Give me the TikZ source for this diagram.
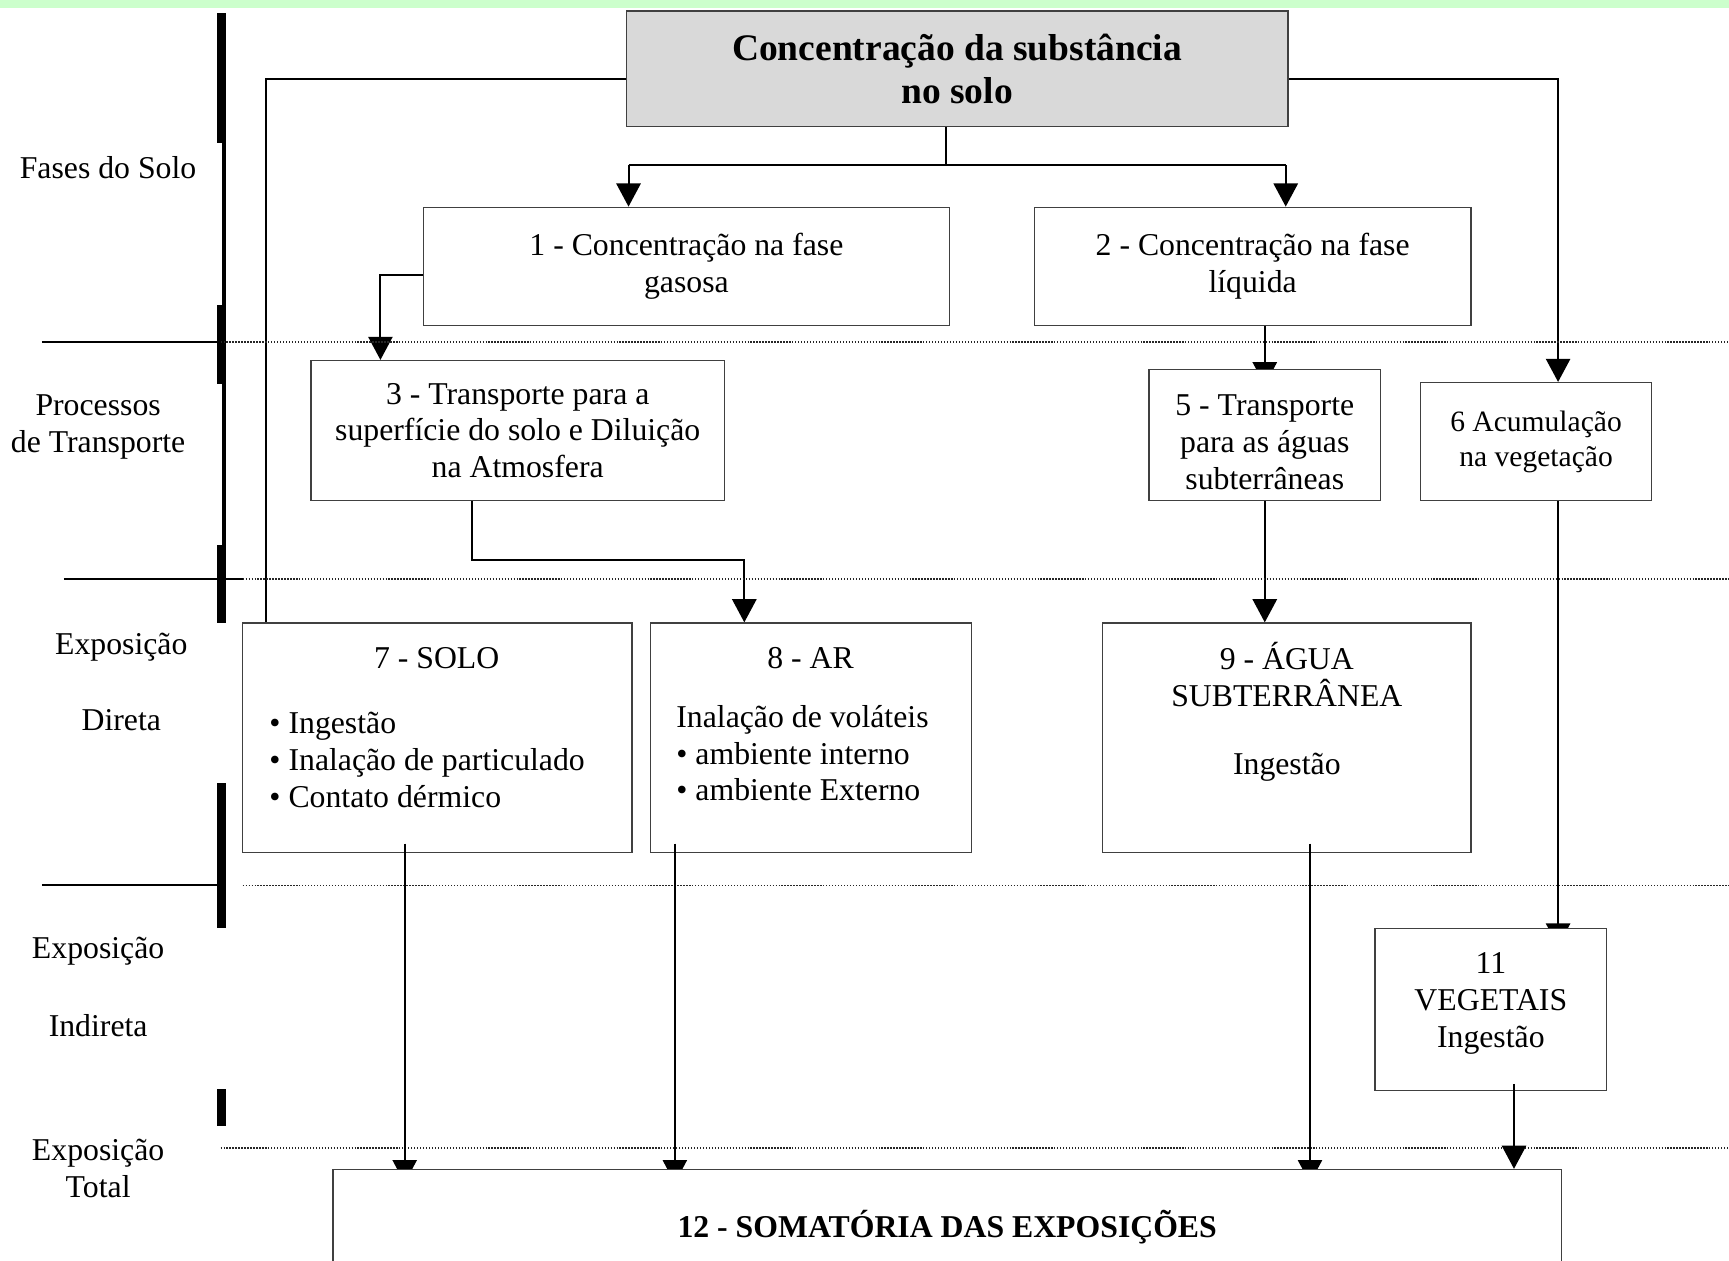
\documentclass[tikz,border=0pt]{standalone}
\usepackage{fontspec}
\setmainfont{Liberation Serif}
\usetikzlibrary{arrows.meta}
\definecolor{faixa}{HTML}{CCFFCC}
\pgfdeclarelayer{back}
\pgfdeclarelayer{front}
\pgfsetlayers{back,main,front}

\begin{document}
\begin{tikzpicture}[x=0.5pt,y=-0.5pt,
  txt/.style={font=\fontsize{14.4}{16.7}\selectfont, align=center, inner sep=0pt},
  box/.style={txt, draw=black!75, line width=0.6pt},
  cover/.style={box, fill=white},
  link/.style={line width=0.9pt},
  arr/.style={link, -{Triangle[length=10.5pt,width=11pt]}},
  sep/.style={line width=0.7pt, black!85, dash pattern=on 0.6pt off 0.75pt}]

  \useasboundingbox (0,0) rectangle (1568,1143);
  \fill[faixa] (0,0) rectangle (1568,7);

  % barras da esquerda
  \fill (197,12) rectangle (205,130);
  \fill (201,130) rectangle (205,277);
  \fill (197,277) rectangle (205,348);
  \fill (201,348) rectangle (205,494);
  \fill (197,494) rectangle (205,565);
  \fill (197,710) rectangle (205,842);
  \fill (197,988) rectangle (205,1021);
  \draw[link] (38,310) -- (200,310);
  \draw[link] (58,525) -- (220,525);
  \draw[link] (38,803) -- (200,803);
  \draw[sep] (200,310) -- (1568,310);
  \draw[sep] (220,525) -- (1568,525);
  \draw[sep] (220,803) -- (1568,803);
  \draw[sep] (200,1041) -- (1568,1041);

  \node[txt] (fases) at (98,152) {Fases do Solo};
  \node[txt] (proc) at (89,387) {Processos\\de Transporte};
  \node[txt] (expd) at (110,587) {Exposição};
  \node[txt] (dir) at (110,653) {Direta};
  \node[txt] (expi) at (89,863) {Exposição};
  \node[txt] (ind) at (89,930) {Indireta};
  \node[txt] (expt) at (89,1060) {Exposição\\Total};

  \node[box, fill=black!15, font=\bfseries\fontsize{17}{19.5}\selectfont,
    minimum width=300pt, minimum height=52.5pt] (conc) at (868,62.5)
    {Concentração da substância\\no solo};
  \node[box, minimum width=238.5pt, minimum height=53.5pt] (gas) at (622.5,241.5)
    {1 - Concentração na fase\\gasosa};
  \node[box, minimum width=198pt, minimum height=53.5pt] (liq) at (1136,241.5)
    {2 - Concentração na fase\\líquida};
  \node[box, minimum width=187.5pt, minimum height=63.5pt] (atm) at (469.5,390.5)
    {3 - Transporte para a\\superfície do solo e Diluição\\na Atmosfera};
  \node[cover, minimum width=105pt, minimum height=59.5pt] (subt) at (1147,394.5) {};
  \node[txt] (subtt) at (1147,401) {5 - Transporte\\para as águas\\subterrâneas};
  \node[box, font=\fontsize{13.4}{16}\selectfont, minimum width=105pt,
    minimum height=53.5pt] (veg) at (1393,400.5) {6 Acumulação\\na vegetação};

  \node[box, minimum width=176.5pt, minimum height=104pt] (solo) at (396.5,669) {};
  \node[txt] (solot) at (396,597) {7 - SOLO};
  \node[txt, anchor=west, align=left] (soloi) at (244,689)
    {• Ingestão\\• Inalação de particulado\\• Contato dérmico};
  \node[box, minimum width=145.5pt, minimum height=104pt] (ar) at (735.5,669) {};
  \node[txt] (art) at (735,597) {8 - AR};
  \node[txt, anchor=west, align=left] (ari) at (613,683)
    {Inalação de voláteis\\• ambiente interno\\• ambiente Externo};
  \node[box, minimum width=167pt, minimum height=104pt] (agua) at (1167,669) {};
  \node[txt] (aguat) at (1167,612) {9 - ÁGUA\\SUBTERRÂNEA};
  \node[txt] (aguai) at (1167,696) {Ingestão};
  \node[cover, minimum width=105pt, minimum height=73.5pt] (vegt) at (1352,915.5) {};
  \node[txt] (vegtt) at (1352,910) {11\\VEGETAIS\\Ingestão};
  \begin{pgfonlayer}{front}
    \node[cover, font=\bfseries\fontsize{14.4}{16.7}\selectfont, anchor=north,
      minimum width=557pt, minimum height=52pt] (soma) at (859,1060)
      {12 - SOMATÓRIA DAS EXPOSIÇÕES};
  \end{pgfonlayer}

  \begin{pgfonlayer}{back}
    \coordinate (split) at (858,150);
    \coordinate (jl) at (570,150);
    \coordinate (jr) at (1166,150);
    \coordinate (tl) at (241,72);
    \coordinate (tr) at (1413,72);
    \coordinate (g3) at (345,249);
    \coordinate (k1) at (428,508);
    \coordinate (k2) at (675,508);
    \draw[link] (conc.south -| split) -- (split);
    \draw[link] (jl) -- (jr);
    \draw[arr] (jl) -- (jl |- gas.north);
    \draw[arr] (jr) -- (jr |- liq.north);
    \draw[link] (conc.west |- tl) -- (tl) -- (tl |- solo.north);
    \draw[arr] (conc.east |- tr) -- (tr) -- (tr |- veg.north);
    \draw[arr] (gas.west |- g3) -- (g3) -- (g3 |- atm.north);
    \draw[arr, shorten >=-7.5pt] (liq.south -| subt.north) -- (subt.north);
    \draw[arr] (atm.south -| k1) -- (k1) -- (k2) -- (k2 |- ar.north);
    \draw[arr] (subt.south) -- (subt.south |- agua.north);
    \draw[arr, shorten >=-8.5pt] (veg.south -| tr) -- (tr |- vegt.north);
  \end{pgfonlayer}

  \coordinate (s7) at (367,765);
  \coordinate (s8) at (612,765);
  \coordinate (s9) at (1188,765);
  \coordinate (s11) at (1373,983);
  \draw[arr, line width=0.75pt, shorten >=-6.5pt] (s7) -- (s7 |- soma.north);
  \draw[arr, line width=0.75pt, shorten >=-6.5pt] (s8) -- (s8 |- soma.north);
  \draw[arr, line width=0.75pt, shorten >=-6.5pt] (s9) -- (s9 |- soma.north);
  \draw[arr, line width=0.75pt] (s11) -- (s11 |- soma.north);
\end{tikzpicture}
\end{document}
